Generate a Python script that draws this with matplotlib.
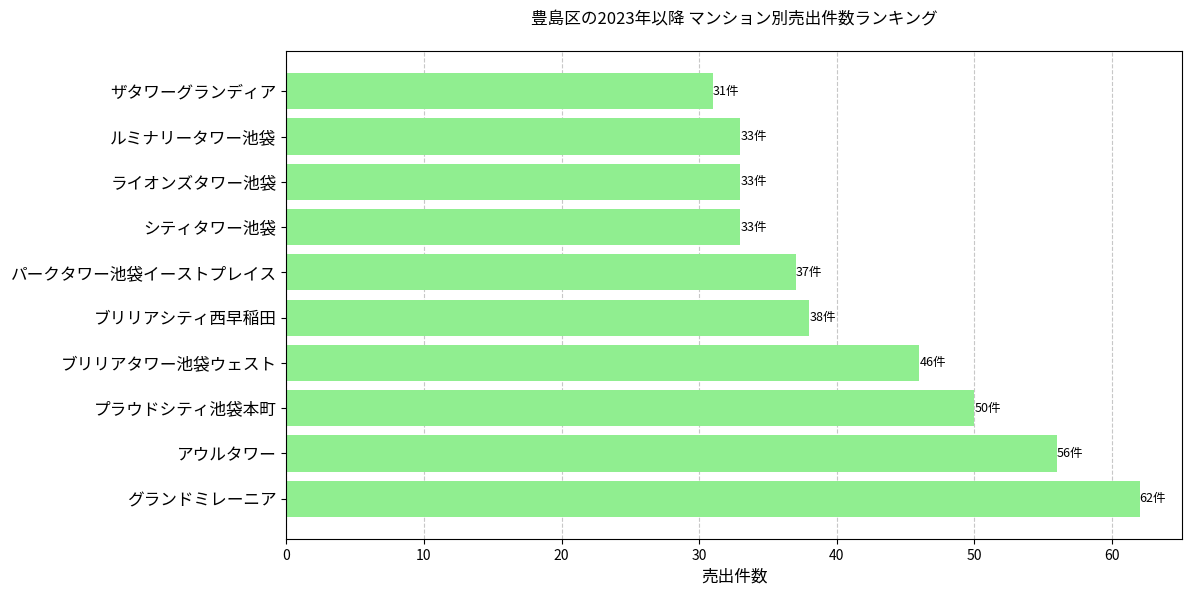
import matplotlib
matplotlib.use("Agg")
import matplotlib.pyplot as plt

plt.rcParams["font.family"] = ["Noto Sans CJK JP", "DejaVu Sans"]

# 売出件数の多い順
mansions = [
    "グランドミレーニア",
    "アウルタワー",
    "プラウドシティ池袋本町",
    "ブリリアタワー池袋ウェスト",
    "ブリリアシティ西早稲田",
    "パークタワー池袋イーストプレイス",
    "シティタワー池袋",
    "ライオンズタワー池袋",
    "ルミナリータワー池袋",
    "ザタワーグランディア",
]
counts = [62, 56, 50, 46, 38, 37, 33, 33, 33, 31]

fig, ax = plt.subplots(figsize=(11.93, 5.93), dpi=100)

bars = ax.barh(mansions, counts, color="lightgreen")

for bar, count in zip(bars, counts):
    ax.text(
        bar.get_width(),
        bar.get_y() + bar.get_height() / 2,
        f"{count}件",
        va="center",
        ha="left",
        fontsize=9,
    )

ax.set_xlabel("売出件数", fontsize=12)
ax.set_title("豊島区の2023年以降 マンション別売出件数ランキング", fontsize=12, pad=20)
ax.tick_params(axis="y", labelsize=12)
ax.tick_params(axis="x", labelsize=10)
ax.grid(axis="x", linestyle="--", alpha=0.7)
ax.set_axisbelow(True)

plt.subplots_adjust(left=0.24, right=0.991, top=0.914, bottom=0.091)
plt.savefig("out.png")
plt.close()
